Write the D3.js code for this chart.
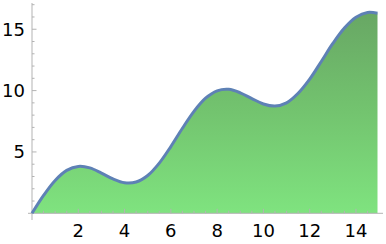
<!DOCTYPE html>
<html><head><meta charset="utf-8">
<script src="https://cdn.jsdelivr.net/npm/d3@7"></script>
<style>body{margin:0;background:#fff}svg{display:block}</style>
</head><body>
<script>
const xs = [0,0.5,1,1.5,2,2.5,3,3.5,4,4.5,5,5.5,6,6.5,7,7.5,8,8.5,9,9.5,10,10.5,11,11.5,12,12.5,13,13.5,14,14.5,14.93];
const ys = [0,1.46,2.68,3.5,3.82,3.7,3.28,2.8,2.49,2.55,3.08,4.09,5.44,6.93,8.31,9.38,9.98,10.1,9.82,9.35,8.91,8.74,9.0,9.78,10.93,12.37,13.84,15.1,15.98,16.37,16.3];
const xTicks = [2,4,6,8,10,12,14];
const yTicks = [5,10,15];

const W=386,H=244;
const x = d3.scaleLinear().domain([0,14.93]).range([32,377.5]);
const y = d3.scaleLinear().domain([0,17]).range([213.3,4.7]);
const svg = d3.select("body").append("svg").attr("width",W).attr("height",H);
const data = xs.map((v,i)=>[v,ys[i]]);

const defs = svg.append("defs");
const g = defs.append("linearGradient").attr("id","gr").attr("gradientUnits","userSpaceOnUse")
  .attr("x1",0).attr("x2",0).attr("y1",y(16.4)).attr("y2",y(0));
g.append("stop").attr("offset",0).attr("stop-color","#68a764");
g.append("stop").attr("offset",0.5).attr("stop-color","#73c46f");
g.append("stop").attr("offset",1).attr("stop-color","#7fe37f");

const curve = d3.curveCatmullRom.alpha(0.5);
svg.append("path").datum(data)
  .attr("d", d3.area().x(d=>x(d[0])).y0(y(0)).y1(d=>y(d[1])).curve(curve))
  .attr("fill","url(#gr)");

// axes
const ax = "#b3b3b3";
svg.append("line").attr("x1",28).attr("x2",383).attr("y1",y(0)).attr("y2",y(0)).attr("stroke",ax).attr("stroke-width",1);
svg.append("line").attr("x1",x(0)).attr("x2",x(0)).attr("y1",220).attr("y2",3).attr("stroke",ax).attr("stroke-width",1);

// x ticks
const xMinor = d3.range(0.5,15,0.5).filter(v=>v%2!==0);
svg.selectAll(".xmin").data(xMinor).enter().append("line")
  .attr("x1",d=>x(d)).attr("x2",d=>x(d)).attr("y1",y(0)).attr("y2",y(0)-2.5).attr("stroke",ax);
svg.selectAll(".xmaj").data(xTicks).enter().append("line")
  .attr("x1",d=>x(d)).attr("x2",d=>x(d)).attr("y1",y(0)).attr("y2",y(0)-4.5).attr("stroke",ax);
svg.selectAll(".xl").data(xTicks).enter().append("text")
  .attr("x",d=>x(d)).attr("y",237).attr("text-anchor","middle")
  .attr("font-family","DejaVu Sans").attr("font-size",18).attr("fill","#000").text(d=>d);

// y ticks
const yMinor = d3.range(1,18,1).filter(v=>v%5!==0);
svg.selectAll(".ymin").data(yMinor).enter().append("line")
  .attr("x1",x(0)).attr("x2",x(0)+2.5).attr("y1",d=>y(d)).attr("y2",d=>y(d)).attr("stroke",ax);
svg.selectAll(".ymaj").data(yTicks).enter().append("line")
  .attr("x1",x(0)).attr("x2",x(0)+4.5).attr("y1",d=>y(d)).attr("y2",d=>y(d)).attr("stroke",ax);
svg.selectAll(".yl").data(yTicks).enter().append("text")
  .attr("x",25).attr("y",d=>y(d)).attr("dy","0.36em").attr("text-anchor","end")
  .attr("font-family","DejaVu Sans").attr("font-size",18).attr("fill","#000").text(d=>d);

// line
svg.append("path").datum(data)
  .attr("d", d3.line().x(d=>x(d[0])).y(d=>y(d[1])).curve(curve))
  .attr("fill","none").attr("stroke","#5e81b5").attr("stroke-width",3).attr("stroke-linejoin","round");
</script>
</body></html>
